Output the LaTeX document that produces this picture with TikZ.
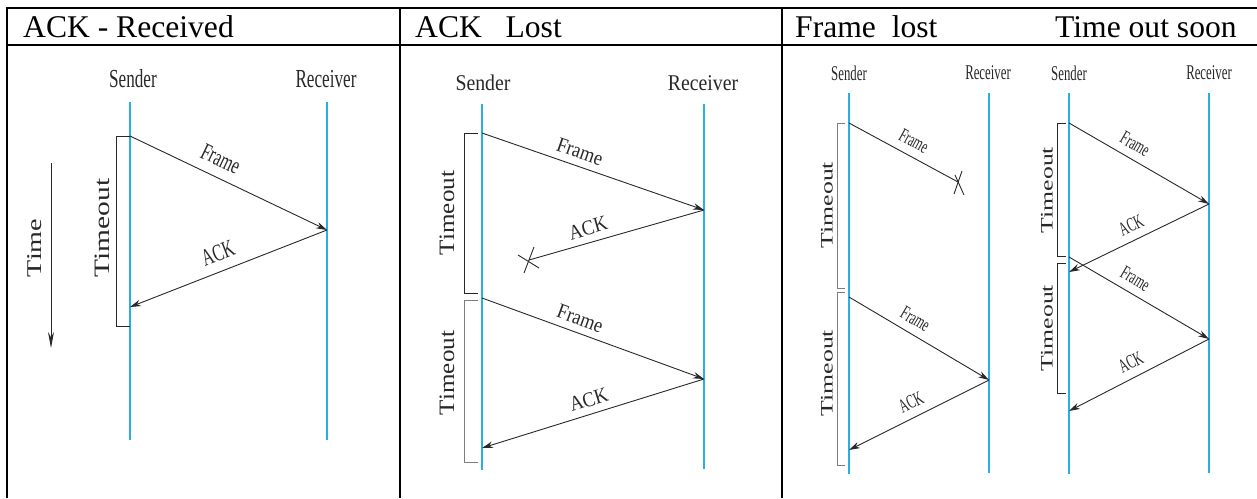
\documentclass[tikz,border=0pt]{standalone}
\usepackage{fontspec}
\setmainfont{Liberation Serif}
% narrow and wide cuts of the serif face used for the diagram labels
\newfontfamily\narrowA[FakeStretch=0.66]{Liberation Serif}
\newfontfamily\narrowB[FakeStretch=0.88]{Liberation Serif}
\newfontfamily\narrowC[FakeStretch=0.61]{Liberation Serif}
\newfontfamily\wideA[FakeStretch=1.34]{Liberation Serif}
\newfontfamily\wideB[FakeStretch=1.14]{Liberation Serif}
\newfontfamily\wideC[FakeStretch=1.47]{Liberation Serif}
\usetikzlibrary{arrows.meta}
\definecolor{lifeblue}{RGB}{40,176,230}
\definecolor{ink}{RGB}{40,40,40}
\definecolor{softink}{RGB}{125,125,125}

\begin{document}
\begin{tikzpicture}[x=1pt,y=-1pt,
  typeface/.style 2 args={font=#1\fontsize{#2}{#2}\selectfont},
  gridline/.style={line width=2pt,black},
  lifeline/.style={lifeblue,line width=1.1pt},
  msg/.style={ink,line width=0.9pt,-{Stealth[length=11pt,width=6.5pt]}},
  lostmsg/.style={ink,line width=0.9pt},
  timer/.style={ink,line width=0.9pt},
  softtimer/.style={softink,line width=1pt},
  party/.style={inner sep=0pt,text=ink},
  msglabel/.style={sloped,above,inner xsep=0pt,inner ysep=#1,text=ink},
  msglabel/.default=8pt,
  heading/.style={anchor=base west,inner sep=0pt,font=\fontsize{31.6}{34}\selectfont},
  timelabel/.style={rotate=90,inner sep=0pt,text=ink}]
\useasboundingbox (0,0) rectangle (1257,498);

% ---------- table ----------
\draw[gridline] (7,498) -- (7,8) -- (1257,8);
\draw[gridline] (7,45) -- (1257,45);
\draw[gridline] (399.5,8) -- (399.5,498);
\draw[gridline] (782,8) -- (782,498);

\node[heading] (h1) at (23,37) {ACK - Received};
\node[heading] (h2) at (415,37) {ACK~~~Lost};
\node[heading] (h3) at (795,37) {Frame~~lost};
\node[heading] (h4) at (1055,37) {Time out soon};

% ---------- panel 1: ACK received ----------
\node[party,typeface={\narrowA}{26}] (s1) at (133,79) {Sender};
\node[party,typeface={\narrowA}{26}] (r1) at (326,79) {Receiver};
\coordinate (s1top) at (130,102);  \coordinate (s1bot) at (130,440);
\coordinate (r1top) at (327,102);  \coordinate (r1bot) at (327,440);
\draw[lifeline] (s1top) -- (s1bot);
\draw[lifeline] (r1top) -- (r1bot);

\coordinate (p1f) at (130,136);
\coordinate (p1r) at (327,230);
\coordinate (p1a) at (130,307);
\draw[msg] (p1f) -- node[msglabel=10pt,pos=0.42,typeface={\narrowA}{24}] {Frame} (p1r);
\draw[msg] (p1r) -- node[msglabel=10pt,pos=0.52,typeface={\narrowA}{24}] {ACK} (p1a);

\draw[timer] (130,136) -- (116,136) -- (116,326) -- (130,326);
\node[timelabel,typeface={\wideA}{22}] (t1) at (102,228) {Timeout};

\coordinate (clk0) at (51,163);
\coordinate (clk1) at (51,348);
\draw[ink,line width=0.9pt,-{Stealth[length=16pt,width=6pt]}] (clk0) -- (clk1);
\node[timelabel,typeface={\wideA}{21}] (tm) at (35,248) {Time};

% ---------- panel 2: ACK lost ----------
\node[party,typeface={\narrowB}{22.5}] (s2) at (483,83) {Sender};
\node[party,typeface={\narrowB}{22.5}] (r2) at (703,83) {Receiver};
\coordinate (s2top) at (482,104);  \coordinate (s2bot) at (482,470);
\coordinate (r2top) at (704,104);  \coordinate (r2bot) at (704,469);
\draw[lifeline] (s2top) -- (s2bot);
\draw[lifeline] (r2top) -- (r2bot);

\coordinate (p2f1) at (482,133);
\coordinate (p2r1) at (704,210);
\coordinate (p2x) at (529,260);
\coordinate (p2f2) at (482,298);
\coordinate (p2r2) at (704,379);
\coordinate (p2a2) at (482,448);
\draw[msg] (p2f1) -- node[msglabel=7pt,pos=0.42,typeface={\narrowB}{21}] {Frame} (p2r1);
\draw[lostmsg] (p2r1) -- node[msglabel=7pt,pos=0.64,typeface={\narrowB}{21}] {ACK} (p2x);
\draw[lostmsg] (p2x) ++(-5,13) -- ++(10,-26);
\draw[lostmsg] (p2x) ++(-11,-5) -- ++(21,13);
\draw[msg] (p2f2) -- node[msglabel=7pt,pos=0.42,typeface={\narrowB}{21}] {Frame} (p2r2);
\draw[msg] (p2r2) -- node[msglabel=7pt,pos=0.5,typeface={\narrowB}{21}] {ACK} (p2a2);

\draw[timer] (478,133) -- (464,133) -- (464,293) -- (478,293);
\draw[softtimer] (478,300) -- (464,300) -- (464,462) -- (478,462);
\node[timelabel,typeface={\wideB}{22}] (t2a) at (447,213) {Timeout};
\node[timelabel,typeface={\wideB}{22}] (t2b) at (447,373) {Timeout};

% ---------- panel 3: frame lost ----------
\node[party,typeface={\narrowC}{21}] (s3) at (849,73) {Sender};
\node[party,typeface={\narrowC}{21}] (r3) at (988,73) {Receiver};
\coordinate (s3top) at (849,93);  \coordinate (s3bot) at (849,474);
\coordinate (r3top) at (989,93);  \coordinate (r3bot) at (989,473);
\draw[lifeline] (s3top) -- (s3bot);
\draw[lifeline] (r3top) -- (r3bot);

\coordinate (p3f1) at (849,123);
\coordinate (p3x) at (958,182);
\coordinate (p3f2) at (849,297);
\coordinate (p3r2) at (989,380);
\coordinate (p3a2) at (849,450);
\draw[lostmsg] (p3f1) -- node[msglabel,pos=0.53,typeface={\narrowC}{19.5}] {Frame} (p3x);
\draw[lostmsg] (p3x) ++(-4,12) -- ++(8,-23);
\draw[lostmsg] (p3x) ++(-3,-7) -- ++(9,20);
\draw[msg] (p3f2) -- node[msglabel,pos=0.42,typeface={\narrowC}{19.5}] {Frame} (p3r2);
\draw[msg] (p3r2) -- node[msglabel,pos=0.51,typeface={\narrowC}{19.5}] {ACK} (p3a2);

\draw[softtimer] (845,123) -- (837,123) -- (837,288) -- (845,288);
\draw[softtimer] (845,292) -- (837,292) -- (837,465) -- (845,465);
\node[timelabel,typeface={\wideC}{17.5}] (t3a) at (827,205) {Timeout};
\node[timelabel,typeface={\wideC}{17.5}] (t3b) at (827,373) {Timeout};

% ---------- panel 4: time out too soon ----------
\node[party,typeface={\narrowC}{21}] (s4) at (1069,73) {Sender};
\node[party,typeface={\narrowC}{21}] (r4) at (1209,73) {Receiver};
\coordinate (s4top) at (1069,93);  \coordinate (s4bot) at (1069,474);
\coordinate (r4top) at (1209,93);  \coordinate (r4bot) at (1209,473);
\draw[lifeline] (s4top) -- (s4bot);
\draw[lifeline] (r4top) -- (r4bot);

\coordinate (p4f1) at (1069,123);
\coordinate (p4r1) at (1209,204);
\coordinate (p4a1) at (1069,272);
\coordinate (p4f2) at (1069,257);
\coordinate (p4r2) at (1209,339);
\coordinate (p4a2) at (1069,411);
\draw[msg] (p4f1) -- node[msglabel,pos=0.42,typeface={\narrowC}{19.5}] {Frame} (p4r1);
\draw[msg] (p4r1) -- node[msglabel,pos=0.51,typeface={\narrowC}{19.5}] {ACK} (p4a1);
\draw[msg] (p4f2) -- node[msglabel,pos=0.42,typeface={\narrowC}{19.5}] {Frame} (p4r2);
\draw[msg] (p4r2) -- node[msglabel,pos=0.51,typeface={\narrowC}{19.5}] {ACK} (p4a2);

\draw[timer] (1066,123) -- (1057,123) -- (1057,256) -- (1066,256);
\draw[timer] (1066,263) -- (1057,263) -- (1057,393) -- (1066,393);
\node[timelabel,typeface={\wideC}{17.5}] (t4a) at (1047,190) {Timeout};
\node[timelabel,typeface={\wideC}{17.5}] (t4b) at (1047,328) {Timeout};
\end{tikzpicture}
\end{document}
